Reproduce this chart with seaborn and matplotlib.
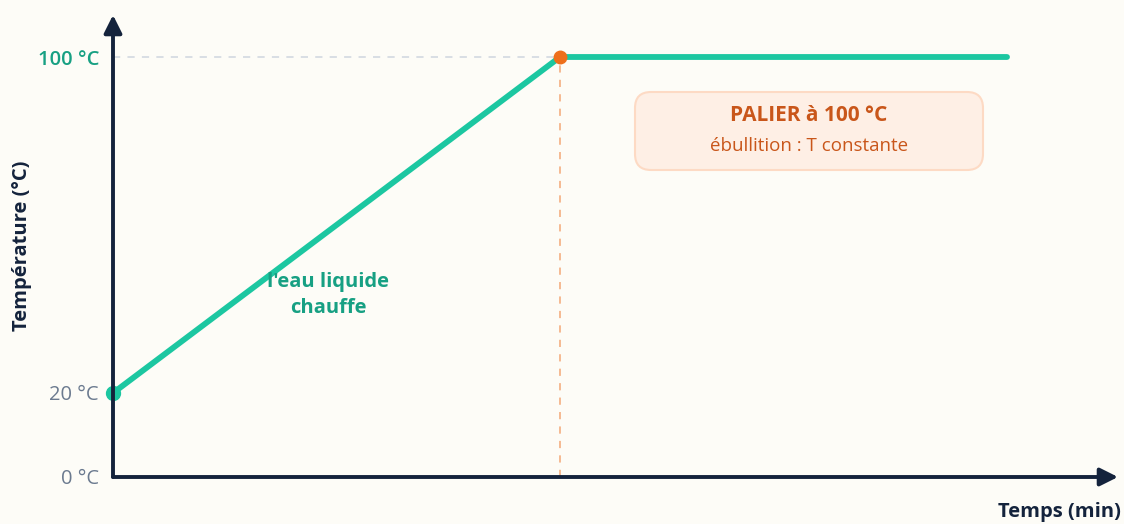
import numpy as np
import pandas as pd
import matplotlib
matplotlib.use("Agg")
import matplotlib.pyplot as plt
import seaborn as sns
from matplotlib.patches import FancyBboxPatch

# Data
times = [0, 5, 10]
temps = [20, 100, 100]
ytick_values = [0, 20, 100]
ytick_labels = ["0 °C", "20 °C", "100 °C"]
start_point = (0, 20)
boil_point = (5, 100)

BG = "#FDFCF7"
TEAL = "#1CC7A1"
GREEN_TXT = "#17A083"
ORANGE = "#EE6F1B"
DARK = "#14233C"
GRAY = "#6B7A8F"

sns.set_theme(style="white")
plt.rcParams['font.family'] = ['Open Sans', 'DejaVu Sans']

fig = plt.figure(figsize=(11.24, 5.24), dpi=100, facecolor=BG)
W, H = 1124, 524
x0, y0, x1, y1 = 113, 477, 1118, 15
ax = fig.add_axes([x0 / W, (H - y0) / H, (x1 - x0) / W, (y0 - y1) / H])
ax.set_facecolor(BG)

xpx = (560 - 113) / 5.0
ypx = (477 - 57) / 100.0
ax.set_xlim(0, (x1 - x0) / xpx)
ax.set_ylim(0, (y0 - y1) / ypx)
for s in ax.spines.values():
    s.set_visible(False)

# reference dashed lines
ax.plot([0, boil_point[0]], [100, 100], ls=(0, (4, 4)), color="#D6DBE2", lw=1.3, zorder=1)
ax.plot([boil_point[0], boil_point[0]], [0, 100], ls=(0, (4, 4)), color="#F5B48A", lw=1.3, zorder=1)

df = pd.DataFrame({"t": times, "T": temps})
sns.lineplot(data=df, x="t", y="T", ax=ax, color=TEAL, lw=4.2, zorder=3,
             solid_capstyle="round")
ax.plot(*start_point, "o", color=TEAL, ms=10, zorder=4, clip_on=False)
ax.plot(*boil_point, "o", color=ORANGE, ms=9, zorder=4)

# axes arrows
ax.annotate("", xy=(0, 1), xytext=(0, 0), xycoords="axes fraction",
            arrowprops=dict(arrowstyle="-|>,head_length=0.9,head_width=0.45", color=DARK,
                            lw=2.8, shrinkA=0, shrinkB=0), zorder=5)
ax.annotate("", xy=(1, 0), xytext=(0, 0), xycoords="axes fraction",
            arrowprops=dict(arrowstyle="-|>,head_length=0.9,head_width=0.45", color=DARK,
                            lw=2.8, shrinkA=0, shrinkB=0), zorder=5)

ax.set_xticks([])
ax.set_yticks(ytick_values)
ax.set_yticklabels(ytick_labels)
ax.tick_params(axis="y", length=0, pad=10, labelsize=14.5)
for lab, v in zip(ax.get_yticklabels(), ytick_values):
    if v == 100:
        lab.set_color(GREEN_TXT)
        lab.set_fontweight("semibold")
    else:
        lab.set_color(GRAY)
ax.set_xlabel("")
ax.set_ylabel("Température (°C)", fontsize=14.5, fontweight="bold", color=DARK)
ax.yaxis.set_label_coords((32 - x0) / (x1 - x0), 0.5)

fig.text(1121 / W, (H - 512) / H, "Temps (min)", ha="right", va="center",
         fontsize=14.5, fontweight="bold", color=DARK)

# annotations
ax.text((328 - 113) / xpx, (477 - 295) / ypx, "l'eau liquide\nchauffe", ha="center", va="center",
        fontsize=14.5, fontweight="bold", color=GREEN_TXT, linespacing=1.35, zorder=6)

bx0, bx1 = (635 - 113) / xpx, (983 - 113) / xpx
by0, by1 = (477 - 170) / ypx, (477 - 92) / ypx
r = 16 / xpx
box = FancyBboxPatch((bx0, by0), bx1 - bx0, by1 - by0,
                     boxstyle=f"round,pad=0,rounding_size={r}",
                     mutation_aspect=xpx / ypx, facecolor="#FEEFE5", edgecolor="#FDDAC4",
                     lw=1.5, zorder=2)
ax.add_patch(box)
cx = (bx0 + bx1) / 2
ax.text(cx, (477 - 115) / ypx, "PALIER à 100 °C", ha="center", va="center",
        fontsize=15, fontweight="bold", color="#C9561A", zorder=6)
ax.text(cx, (477 - 146) / ypx, "ébullition : T constante", ha="center", va="center",
        fontsize=13.5, color="#C9561A", zorder=6)

fig.savefig("out.png", dpi=100, facecolor=BG)
